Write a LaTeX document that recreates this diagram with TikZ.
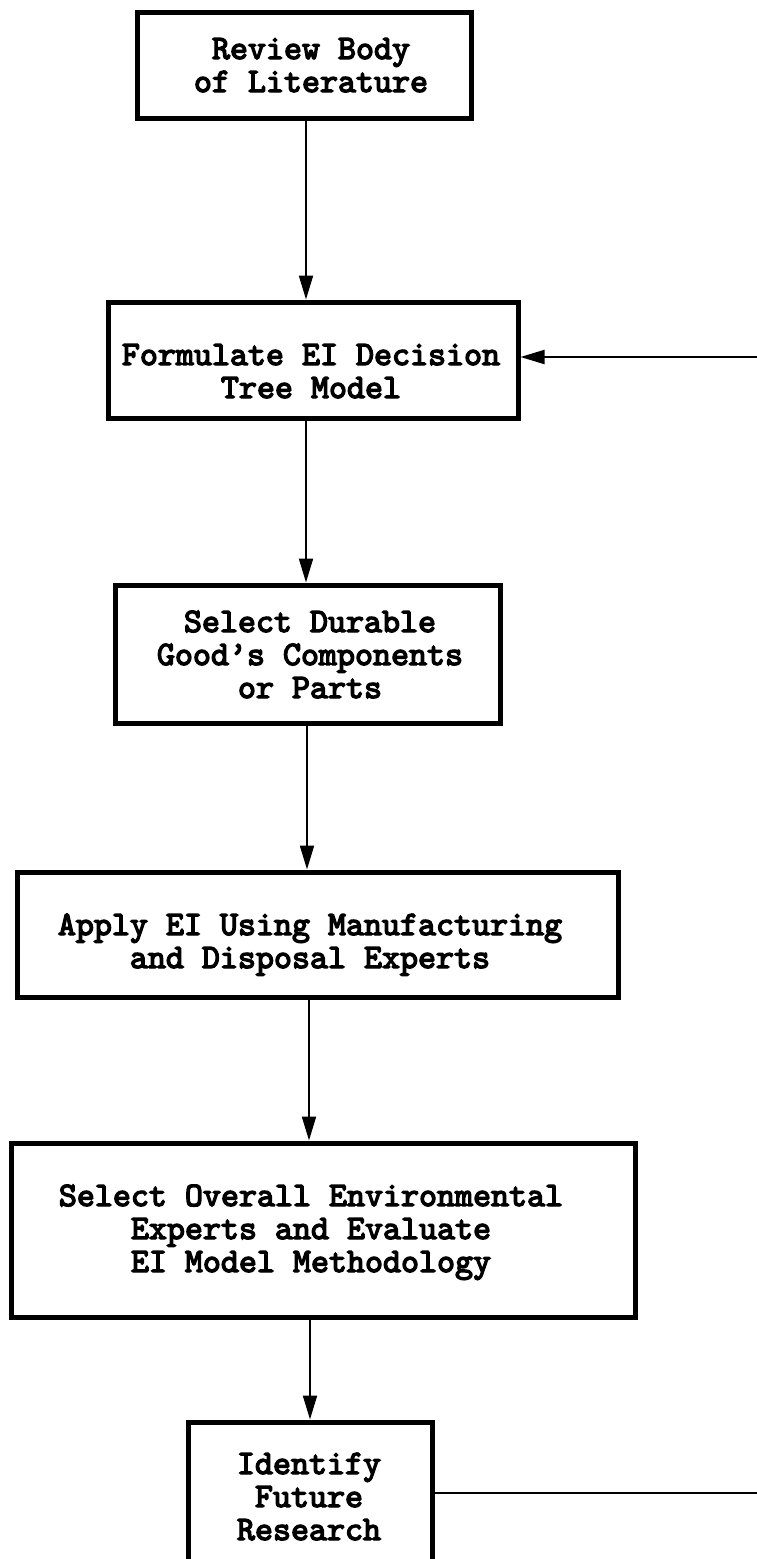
\documentclass[tikz,border=0pt]{standalone}
\usepackage{fontspec}
\usetikzlibrary{arrows.meta}
% heavy typewriter face for the box captions
\newfontfamily\stagefont{lmmono10-regular.otf}[FakeBold=4]
\begin{document}
\begin{tikzpicture}[x=1pt,y=-1pt,
  stagebox/.style={draw=black, line width=5pt, rectangle, inner sep=0pt},
  caption/.style={font=\stagefont\fontsize{34.3}{33}\selectfont, align=center,
    anchor=base, inner sep=0pt},
  flow/.style={line width=2pt, -{Triangle[length=24pt,width=14pt]}},
  link/.style={line width=2pt}]
\path[use as bounding box] (0,0) rectangle (757,1559);
\clip (0,0) rectangle (757,1559);

% process boxes
\node[stagebox, minimum width=334pt, minimum height=106pt] (b1) at (304,65) {};
\node[stagebox, minimum width=410pt, minimum height=116pt] (b2) at (313,360) {};
\node[stagebox, minimum width=385pt, minimum height=138pt] (b3) at (307.5,654) {};
\node[stagebox, minimum width=601pt, minimum height=125pt] (b4) at (317.5,934.5) {};
\node[stagebox, minimum width=624pt, minimum height=174pt] (b5) at (323,1230) {};
\node[stagebox, minimum width=244pt, minimum height=190pt] (b6) at (310,1517) {};

% box texts (anchored at the baseline of the last line)
\node[caption] (t1) at (311,92) {Review Body\\of Literature};
\node[caption] (t2) at (311,398) {Formulate EI Decision\\Tree Model};
\node[caption] (t3) at (310,698) {Select Durable\\Good’s Components\\or Parts};
\node[caption] (t4) at (310,968) {Apply EI Using Manufacturing\\and Disposal Experts};
\node[caption] (t5) at (311,1272) {Select Overall Environmental\\Experts and Evaluate\\EI Model Methodology};
\node[caption] (t6) at (309,1540) {Identify\\Future\\Research};

% main flow
\coordinate (ax1) at (306,0);
\coordinate (ax3) at (307,0);
\coordinate (ax4) at (309,0);
\coordinate (ax5) at (310,0);
\draw[flow] (b1.south -| ax1) -- (b2.north -| ax1);
\draw[flow] (b2.south -| ax1) -- (b3.north -| ax1);
\draw[flow] (b3.south -| ax3) -- (b4.north -| ax3);
\draw[flow] (b4.south -| ax4) -- (b5.north -| ax4);
\draw[flow] (b5.south -| ax5) -- (b6.north -| ax5);

% feedback loop from future research back to the model
\coordinate (r6) at (775,1493);
\coordinate (r2) at (775,357);
\draw[link] (b6.east |- r6) -- (r6) -- (r2);
\draw[flow] (r2) -- (b2.east |- r2);
\end{tikzpicture}
\end{document}
